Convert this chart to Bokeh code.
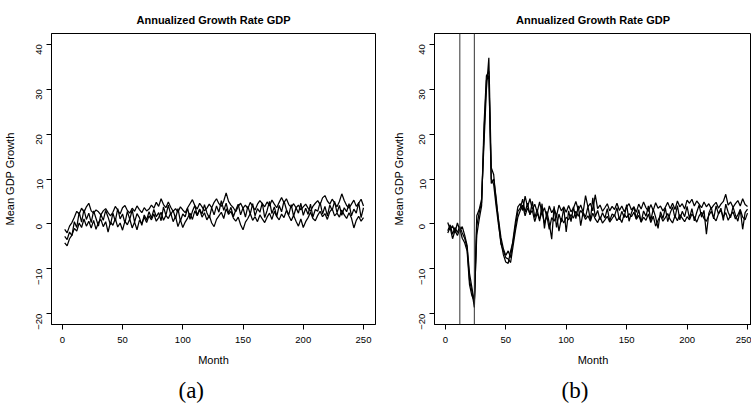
import math

from bokeh.embed import file_html
from bokeh.layouts import row
from bokeh.models import FixedTicker, Range1d, Span, Title
from bokeh.plotting import figure
from bokeh.resources import INLINE

# Month index (every second month) and axis ticks
months = list(range(2, 251, 2))
x_ticks = [0, 50, 100, 150, 200, 250]
y_ticks = [-20, -10, 0, 10, 20, 30, 40]

# Panel (a): mean annualized GDP growth, three runs
growth_a1 = [
    -1.2, -2.0, -0.5, 0.3, 1.5, 2.8, 2.2, 3.5, 2.6, 3.8, 4.6, 2.9, 2.4, 3.1, 2.7, 2.0, 2.9, 3.4, 2.5, 1.8, 2.6, 3.9, 3.1, 2.2, 3.6,
    4.1, 3.0, 2.4, 3.5, 2.8, 4.0, 3.2, 2.5, 3.6, 2.9, 3.3, 4.2, 3.5, 4.8, 3.9, 5.6, 4.3, 3.6, 4.9, 3.7, 2.8, 3.4, 2.6, 3.8, 3.1,
    2.5, 3.6, 4.5, 5.4, 4.1, 3.3, 4.6, 3.8, 2.9, 3.5, 4.4, 3.6, 4.8, 5.6, 4.5, 3.9, 5.1, 6.9, 5.0, 4.2, 3.6, 2.7, 3.9, 4.6, 3.5,
    4.2, 3.4, 4.8, 3.9, 3.1, 4.4, 5.2, 4.5, 3.8, 4.9, 4.0, 5.3, 4.4, 3.6, 4.8, 5.9, 4.7, 5.6, 4.3, 3.7, 4.5, 3.6, 4.2, 3.1, 3.8,
    4.4, 3.5, 2.8, 3.9, 4.6, 5.2, 4.3, 5.8, 6.3, 5.1, 4.4, 5.5, 4.7, 3.8, 5.0, 6.7, 5.2, 4.1, 3.5, 4.4, 5.3, 3.9, 4.6, 5.5, 4.0,
]
growth_a2 = [
    -2.8, -3.5, -1.8, -2.6, 0.5, -0.8, 2.6, 0.4, 3.2, 1.0, 2.4, 0.3, 2.9, 1.2, -0.5, 2.1, 0.8, 3.0, 1.5, -0.2, 2.4, 0.6, 3.4, 1.1, 2.2,
    0.2, 2.8, 1.0, 3.1, 0.4, 2.3, 1.4, -0.3, 2.0, 0.9, 2.7, 1.3, 3.2, 1.6, 2.5, 0.7, 3.8, 1.9, 4.2, 2.1, 3.0, 1.2, 3.4, 0.6, 2.2,
    1.6, 3.5, 1.0, 2.8, 4.1, 1.9, 3.3, 2.2, 4.3, 2.5, 1.3, 3.6, 2.0, 4.0, 2.6, 5.2, 3.0, 4.6, 2.4, 3.7, 1.6, 3.1, 4.4, 2.0, 3.6,
    1.5, 3.9, 2.2, 4.5, 1.8, 3.4, 2.6, 4.7, 1.4, 3.0, 5.0, 2.3, 3.8, 1.6, 4.1, 2.7, 5.1, 3.2, 2.0, 4.3, 1.7, 3.6, 2.4, 4.6, 1.9,
    3.5, 2.1, 4.4, 1.5, 3.2, 2.8, 4.8, 2.2, 3.9, 1.8, 4.2, 3.0, 5.0, 2.5, 4.1, 1.9, 3.6, 2.7, 4.5, 1.8, 3.3, 2.4, 4.8, 1.4, 3.6,
]
growth_a3 = [
    -4.2, -4.9, -3.3, -2.5, -1.0, -1.6, 0.2, -0.8, 1.1, -0.5, 0.6, -0.9, 0.8, -1.2, 0.3, 1.0, -0.6, 0.5, -1.8, 0.4, -0.3, 1.2, -0.7, 0.2, -1.4,
    0.6, -0.2, 1.1, -0.9, 0.4, -1.3, 0.8, 0.1, 1.5, 0.3, 1.8, 0.9, 2.2, 0.6, 1.4, 2.6, 0.8, 1.9, 1.2, 2.4, 0.5, 1.7, -0.6, 0.9, -0.8,
    0.4, 1.3, 2.4, 1.0, 2.9, 1.8, 3.2, 1.5, 2.5, 0.9, 1.9, 0.2, -0.6, 1.0, 1.8, 2.6, 1.2, 3.4, 2.1, 2.8, 1.3, 0.6, 1.5, -0.2, -1.3,
    0.4, 1.2, 2.3, 0.8, 1.6, 0.5, 2.0, 1.1, 0.3, 1.5, 2.4, 1.0, 2.8, 1.6, 0.9, 2.2, 1.4, 3.0, 1.8, 0.7, 1.9, 0.6, -0.5, 1.1, -0.8,
    0.5, 1.4, 2.6, 1.2, 0.7, 1.9, 2.8, 1.6, 2.3, 1.0, 2.7, 3.4, 1.8, 2.4, 1.5, 3.1, 2.0, 1.2, 2.5, 1.3, -0.9, 0.8, 1.7, 0.6, 1.4,
]

# Panel (b): same measure with a shock between months 12 and 24
shock_months = [12, 24]
growth_b1 = [
    0.3, -1.2, -0.4, -1.9, 0.2, -1.4, -0.6, -2.5, -4.8, -11.0, -14.2, -17.5, 1.8, 3.2, 5.5, 18.0, 30.0, 37.0, 12.5, 11.0, 5.0, 1.0, -3.0, -5.5, -7.0,
    -6.0, -7.5, -3.5, 0.5, 3.8, 4.5, 3.0, 6.2, 3.8, 5.6, 3.2, 4.4, 2.6, 4.9, 2.3, 3.6, 1.5, 4.0, 2.5, 3.4, 1.8, 4.2, 2.9, 3.8, 2.6,
    4.1, 2.7, 3.5, 5.0, 3.1, 4.2, 2.6, 6.3, 3.8, 4.6, 2.9, 6.5, 3.4, 4.2, 2.8, 3.6, 4.5, 2.9, 3.9, 3.2, 4.6, 3.0, 4.0, 2.7, 3.8,
    4.5, 3.1, 3.8, 2.6, 4.4, 3.3, 4.9, 3.6, 2.8, 4.3, 3.0, 4.7, 3.5, 4.0, 2.9, 3.7, 4.8, 3.4, 4.6, 3.2, 5.1, 3.8, 4.5, 3.3, 5.3,
    4.6, 5.5, 4.0, 5.1, 4.4, 3.6, 4.9, 3.8, 4.5, 3.4, 4.2, 4.8, 3.5, 4.4, 5.0, 6.6, 4.2, 4.9, 3.7, 4.5, 5.2, 4.0, 5.6, 4.3, 3.9,
]
growth_b2 = [
    -1.5, -0.2, -2.3, -0.8, -1.9, -0.6, -2.0, -3.2, -5.2, -12.5, -15.0, -18.6, -0.5, 2.5, 4.8, 20.0, 32.0, 33.0, 10.0, 8.8, 4.0, -0.2, -4.0, -6.8, -8.5,
    -8.8, -6.0, -4.0, -0.5, 2.8, 3.5, 5.5, 2.6, 4.6, 2.0, 5.0, 1.4, 3.2, 0.6, 4.5, -1.0, 2.8, 0.2, -3.4, 3.9, -0.8, 2.2, 0.4, 3.6, -1.8,
    2.9, 0.5, 3.8, 1.2, 4.0, -0.4, 2.6, 1.5, 3.9, 0.8, 5.8, 1.6, 3.0, 0.9, 2.5, 1.3, 3.4, 0.7, 2.2, 1.8, 3.6, 0.9, 2.8, 1.4, 4.3,
    0.6, 2.5, 3.8, 1.1, 3.2, 0.4, 2.9, 1.7, 4.0, 0.8, 3.3, 1.5, -1.0, 2.7, 1.2, 3.6, 0.5, 2.4, 3.8, 1.3, 4.1, 0.9, 2.8, 1.6, 3.9,
    1.2, 3.4, 0.7, 2.6, 4.2, 1.5, 3.0, -2.3, 2.4, 3.7, 1.1, 4.0, 2.2, 3.5, 0.8, 4.4, 2.6, 1.4, 3.8, 2.0, 0.6, 3.2, -1.2, 2.5, 3.3,
]
growth_b3 = [
    -2.0, -0.8, -3.3, -1.5, -2.6, -1.1, -3.2, -4.2, -6.0, -13.5, -16.0, -17.2, -2.5, 1.0, 4.0, 22.0, 33.0, 34.0, 9.0, 10.0, 6.0, 0.5, -4.5, -6.0, -7.5,
    -7.8, -8.6, -5.0, -1.5, 1.5, 3.0, 4.2, 1.8, 3.6, 2.2, 3.0, 0.5, 2.4, 1.0, 2.6, 0.2, 1.8, -1.2, 1.4, 0.6, 2.0, -1.6, 1.3, 0.2, 1.5,
    0.9, 2.1, 1.3, 2.8, 1.7, 3.0, 2.2, 1.0, 1.8, 0.6, 2.4, 1.1, 0.3, 1.6, 0.2, 0.9, 1.7, 0.4, 1.2, 2.0, 0.7, 1.5, 0.3, 2.2, 1.4,
    2.3, 1.6, 2.6, 1.0, 1.9, 0.4, 1.5, 0.8, 2.2, 0.3, 1.7, -0.5, 0.8, 1.9, 0.6, 1.4, 2.3, 1.0, 0.2, 1.8, 0.7, 2.1, 1.3, 0.5, 1.6,
    0.9, 2.2, 1.5, 0.4, 1.8, 2.6, 1.2, 0.6, 1.9, 2.8, 1.4, 0.7, 2.3, 3.0, 1.6, 2.5, 0.8, 1.9, 2.7, 1.1, 2.0, 3.2, 1.5, 0.9, 2.4,
]

SANS = "Liberation Sans"
SERIF = "Liberation Serif"


def make_panel(series, caption, width, border_left, border_right, x_end,
               ylabel_standoff, vlines=()):
    p = figure(
        width=width, height=415,
        output_backend="svg", toolbar_location=None,
        x_range=Range1d(-8.96, x_end), y_range=Range1d(-22.4, 42.4),
        min_border_left=border_left, min_border_right=border_right,
        min_border_top=33, min_border_bottom=91,
        title="Annualized Growth Rate GDP",
    )
    p.title.align = "center"
    p.title.text_font = SANS
    p.title.text_font_size = "11px"
    p.title.text_font_style = "bold"
    p.title.text_color = "black"
    p.title.standoff = 16

    p.grid.visible = False
    p.outline_line_color = "black"
    p.outline_line_width = 1
    p.background_fill_color = "white"
    p.border_fill_color = "white"

    for ax in (p.xaxis[0], p.yaxis[0]):
        ax.axis_line_color = "black"
        ax.major_tick_line_color = "black"
        ax.major_tick_out = 5
        ax.major_tick_in = 0
        ax.minor_tick_line_color = None
        ax.major_label_text_font = SANS
        ax.major_label_text_font_size = "9.5px"
        ax.major_label_text_color = "black"
        ax.axis_label_text_font = SANS
        ax.axis_label_text_font_size = "11px"
        ax.axis_label_text_font_style = "normal"
        ax.axis_label_text_color = "black"

    p.xaxis.ticker = FixedTicker(ticks=x_ticks)
    p.yaxis.ticker = FixedTicker(ticks=y_ticks)
    p.xaxis.axis_label = "Month"
    p.yaxis.axis_label = "Mean GDP Growth"
    p.xaxis.major_label_standoff = 7
    p.xaxis.axis_label_standoff = 8
    p.yaxis.major_label_standoff = 7
    p.yaxis.axis_label_standoff = ylabel_standoff
    p.yaxis.major_label_orientation = math.pi / 2

    for m in vlines:
        p.add_layout(Span(location=m, dimension="height", line_color="#333333", line_width=1))

    for ys in series:
        p.line(months, ys, line_color="black", line_width=1.25)

    p.add_layout(
        Title(text=caption, align="left", offset=127, text_font=SERIF,
              text_font_size="23px", text_font_style="normal", text_color="black",
              standoff=14),
        "below",
    )
    return p


left = make_panel([growth_a1, growth_a2, growth_a3], "(a)", 380, 50, 5, 259.96, 15)
right = make_panel([growth_b1, growth_b2, growth_b3], "(b)", 371, 54, 0, 253.3, 9,
                   shock_months)

layout = row(left, right)
open("out.html", "w").write(file_html(layout, INLINE))
